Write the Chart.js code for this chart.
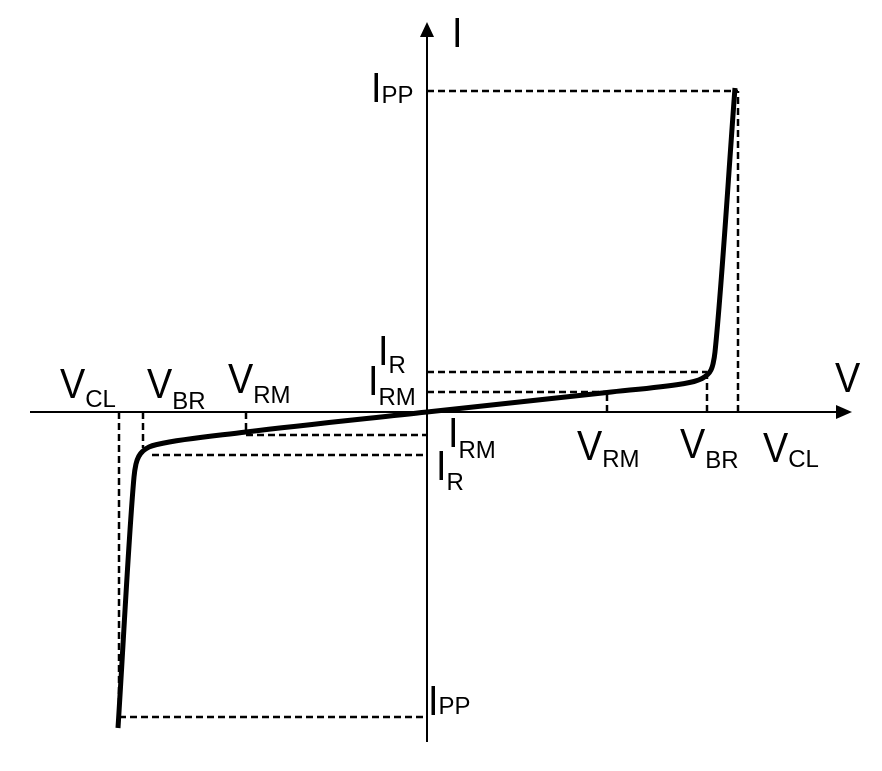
<!DOCTYPE html>
<html>
<head>
<meta charset="utf-8">
<script src="https://cdn.jsdelivr.net/npm/chart.js@4/dist/chart.umd.min.js"></script>
<style>
  html, body { margin: 0; padding: 0; background: #fff; }
  #wrap { width: 882px; height: 771px; }
</style>
</head>
<body>
<div id="wrap"><canvas id="chart" width="882" height="771"></canvas></div>
<script>
// I-V characteristic, arbitrary units (V to the right, I upward)
const posV = [0, 180, 256, 267, 275, 280, 284, 286, 288, 308];
const posI = [0, 19.5, 28.3, 30.5, 33.5, 37, 42, 48, 60, 324];
const negV = [-309, -293, -291, -288, -284, -278, -270, -181, 0];
const negI = [-316, -65, -52, -44, -39, -35, -32.5, -20, 0];

// characteristic levels
const posLevels = { VRM: 180, VBR: 280, VCL: 311, IRM: 20, IR: 40, IPP: 321 };
const negLevels = { VRM: -181, VBR: -284, VCL: -308, IRM: -23, IR: -43, IPP: -305, IRstart: -275 };

// axis extents
const vAxis = [-397, 425];
const iAxis = [-330, 390];

// annotations: main letter, subscript, anchor (V, I), subscript drop
const labelMain = ['I', 'V', 'I', 'I', 'I', 'I', 'I', 'V', 'V', 'V', 'V', 'V', 'V', 'I'];
const labelSub = ['', '', 'PP', 'R', 'RM', 'RM', 'R', 'RM', 'BR', 'CL', 'CL', 'BR', 'RM', 'PP'];
const labelV = [25, 408, -56, -49, -59, 21, 9, 150, 253, 336, -367, -280, -199, 1];
const labelI = [365, 20, 310, 47, 17, -35, -68, -48, -46, -50, 14, 14, 19, -303];
const labelDrop = [0, 0, 1, 8, 10, 11, 10, 7, 10, 5, 9, 11, 10, -1];

const pts = (vs, is) => vs.map((v, k) => ({ x: v, y: is[k] }));
const seg = (x1, y1, x2, y2) => [{ x: x1, y: y1 }, { x: x2, y: y2 }];

const guide = data => ({
  data,
  borderColor: '#000',
  borderWidth: 2.5,
  borderDash: [7, 4],
  pointRadius: 0,
  showLine: true,
});

const guides = [
  // positive side
  seg(0, posLevels.IPP, posLevels.VCL, posLevels.IPP),
  seg(posLevels.VCL, 0, posLevels.VCL, posLevels.IPP),
  seg(0, posLevels.IR, posLevels.VBR, posLevels.IR),
  seg(0, posLevels.IRM, posLevels.VRM, posLevels.IRM),
  seg(posLevels.VRM, 0, posLevels.VRM, posLevels.IRM - 1),
  seg(posLevels.VBR, 0, posLevels.VBR, posLevels.IR - 4),
  // negative side
  seg(negLevels.VCL, negLevels.IPP, 0, negLevels.IPP),
  seg(negLevels.VCL, 0, negLevels.VCL, negLevels.IPP),
  seg(negLevels.IRstart, negLevels.IR, 0, negLevels.IR),
  seg(negLevels.VRM, negLevels.IRM, 0, negLevels.IRM),
  seg(negLevels.VRM, 0, negLevels.VRM, negLevels.IRM + 3),
  seg(negLevels.VBR, 0, negLevels.VBR, negLevels.IR + 7),
].map(guide);

const axisLine = data => ({
  data,
  borderColor: '#000',
  borderWidth: 2,
  pointRadius: 0,
  showLine: true,
});

const curve = data => ({
  data,
  borderColor: '#000',
  borderWidth: 5,
  pointRadius: 0,
  showLine: true,
  cubicInterpolationMode: 'monotone',
  borderCapStyle: 'butt',
});

const MAIN_FONT = '42px "Liberation Sans", Arial, sans-serif';
const SUB_FONT = '24px "Liberation Sans", Arial, sans-serif';
const MAIN_SX = 0.9; // main letters in the original are a little narrow

const diagramPlugin = {
  id: 'diagram',
  afterDatasetsDraw(chart) {
    const { ctx, scales: { x, y } } = chart;
    const ox = x.getPixelForValue(0);
    const oy = y.getPixelForValue(0);
    ctx.save();
    ctx.fillStyle = '#000';

    // arrowheads
    const tx = x.getPixelForValue(vAxis[1]);
    ctx.beginPath();
    ctx.moveTo(tx, oy);
    ctx.lineTo(tx - 16, oy - 7);
    ctx.lineTo(tx - 16, oy + 7);
    ctx.closePath();
    ctx.fill();

    const ty = y.getPixelForValue(iAxis[1]);
    ctx.beginPath();
    ctx.moveTo(ox, ty);
    ctx.lineTo(ox - 7, ty + 15);
    ctx.lineTo(ox + 7, ty + 15);
    ctx.closePath();
    ctx.fill();

    // labels
    ctx.textBaseline = 'alphabetic';
    ctx.textAlign = 'left';
    labelMain.forEach((m, k) => {
      const px = x.getPixelForValue(labelV[k]);
      const py = y.getPixelForValue(labelI[k]);
      ctx.save();
      ctx.translate(px, py);
      ctx.scale(MAIN_SX, 1);
      ctx.font = MAIN_FONT;
      ctx.fillText(m, 0, 0);
      const w = ctx.measureText(m).width * MAIN_SX;
      ctx.restore();
      if (labelSub[k]) {
        ctx.font = SUB_FONT;
        ctx.fillText(labelSub[k], px + w, py + labelDrop[k]);
      }
    });
    ctx.restore();
  },
};

new Chart(document.getElementById('chart'), {
  type: 'scatter',
  data: {
    datasets: [
      axisLine(seg(vAxis[0], 0, vAxis[1] - 15, 0)),
      axisLine(seg(0, iAxis[0], 0, iAxis[1] - 12)),
      ...guides,
      curve(pts(posV, posI)),
      curve(pts(negV, negI)),
    ],
  },
  options: {
    responsive: false,
    animation: false,
    layout: { padding: 0 },
    plugins: {
      legend: { display: false },
      tooltip: { enabled: false },
    },
    scales: {
      x: { type: 'linear', min: -427, max: 455, display: false },
      y: { type: 'linear', min: -359, max: 412, display: false },
    },
  },
  plugins: [diagramPlugin],
});
</script>
</body>
</html>
